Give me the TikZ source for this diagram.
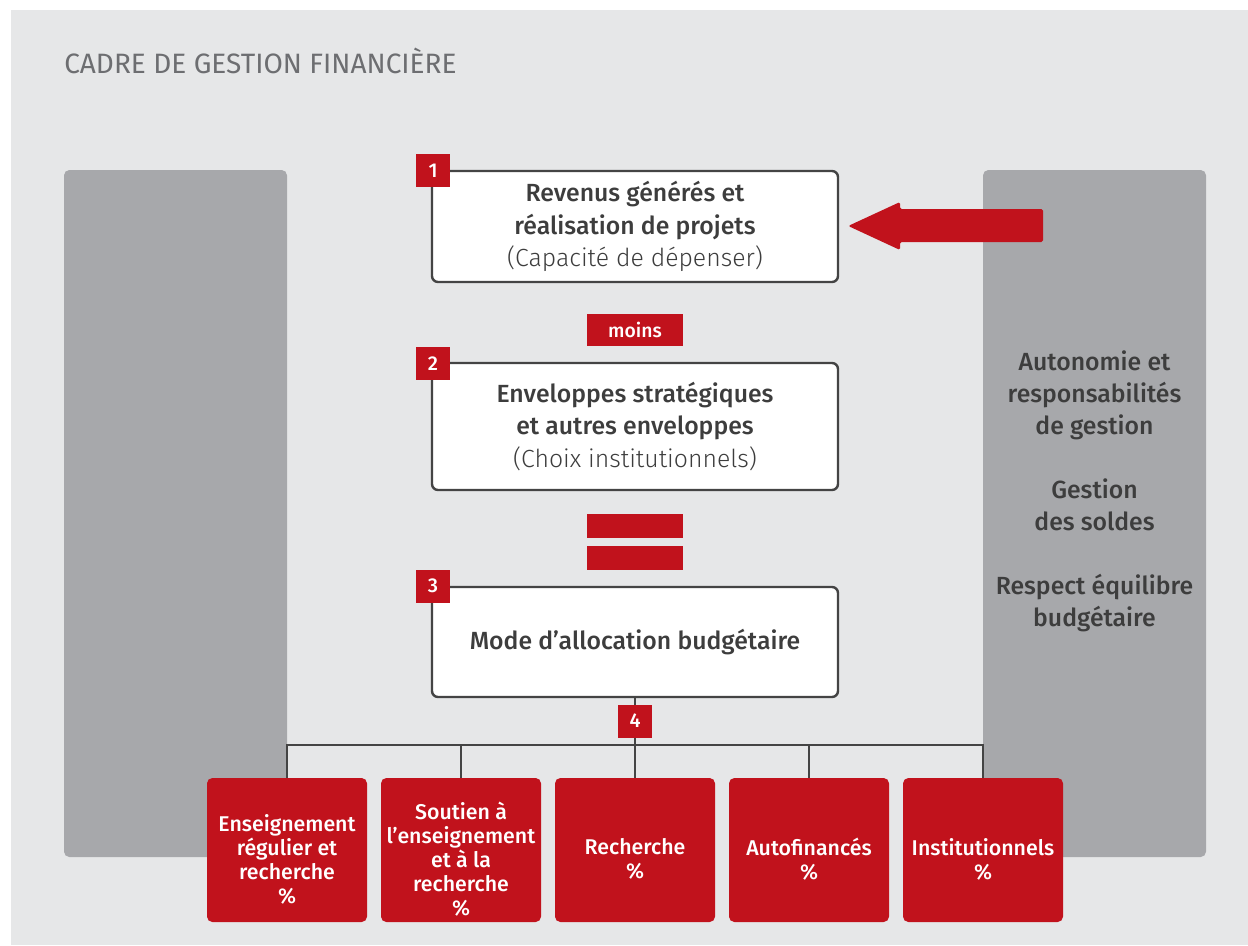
\documentclass[tikz,border=0pt]{standalone}
\usepackage{fontspec}
\setmainfont{Fira Sans}
\newfontfamily\fmedium{Fira Sans Medium}
\newfontfamily\flightf{Fira Sans Light}
\newcommand\fmed{\fmedium}
\newcommand\flight{\flightf}
\definecolor{panelbg}{HTML}{E6E7E8}
\definecolor{colgray}{HTML}{A7A8AB}
\definecolor{uqred}{HTML}{C1121C}
\definecolor{darktxt}{HTML}{3D3D3D}
\definecolor{titletxt}{HTML}{6D6E71}
\definecolor{border}{HTML}{444444}
\tikzset{
  column/.style={fill=colgray, rounded corners=4pt, minimum width=167.25pt, minimum height=515.25pt, inner sep=0pt},
  mainbox/.style={draw=border, line width=1.8pt, fill=white, rounded corners=4.5pt, minimum width=304.5pt, align=center, inner sep=0pt, text=darktxt, font=\fontsize{18.6}{24.4}\selectfont},
  numlabel/.style={fill=uqred, text=white, minimum width=25.5pt, minimum height=24.75pt, inner sep=0pt, font=\fmed\fontsize{15}{18}\selectfont},
  redbar/.style={fill=uqred, minimum width=72pt, inner sep=0pt},
  catbox/.style={fill=uqred, rounded corners=4pt, minimum width=120pt, minimum height=108pt, inner sep=0pt},
  cattext/.style={text=white, align=center, inner sep=0pt, font=\fmed\fontsize{16}{18}\selectfont},
  conn/.style={draw=border, line width=1.5pt},
}
\begin{document}
\begin{tikzpicture}[x=0.75pt,y=-0.75pt]
\useasboundingbox (0,0) rectangle (1248,945);
\fill[panelbg] (11,10) rectangle (1248,945);
\node[anchor=base west, inner sep=0pt, text=titletxt, font=\fontsize{21}{24}\selectfont] (title) at (64,74) {CADRE DE GESTION FINANCIÈRE};
% columns
\node[column] (lc) at (175.5,513.5) {};
\node[column] (rc) at (1094.5,513.5) {};
\node[text=darktxt, align=center, inner sep=0pt, font=\fmed\fontsize{18.6}{24}\selectfont] (rctext) at (1094.5,491)
  {Autonomie et\\responsabilités\\de gestion\\[24pt]Gestion\\des soldes\\[24pt]Respect équilibre\\budgétaire};
% main boxes
\node[mainbox, minimum height=83.25pt] (b1) at (635,226.5) {{\fmed Revenus générés et}\\{\fmed réalisation de projets}\\{\flight(Capacité de dépenser)}};
\node[mainbox, minimum height=95.25pt] (b2) at (635,426.5) {{\fmed Enveloppes stratégiques}\\{\fmed et autres enveloppes}\\{\flight(Choix institutionnels)}};
\node[mainbox, minimum height=82.5pt] (b3) at (635,642) {{\fmed Mode d’allocation budgétaire}};
\node[numlabel] (n1) at (433,170.5) {1};
\node[numlabel] (n2) at (433,363.5) {2};
\node[numlabel] (n3) at (433,586) {3};
% moins and equals
\node[redbar, minimum height=24pt, text=white, font=\fmed\fontsize{14.5}{16}\selectfont] (moins) at (635,330) {moins};
\node[redbar, minimum height=18pt] (eq1) at (635,526) {};
\node[redbar, minimum height=18pt] (eq2) at (635,558) {};
% big arrow
\fill[uqred, rounded corners=1.2pt] ([xshift=6.75pt,yshift=0.4pt]b1.east) coordinate (tip)
  -- (900,202) -- (900,209) -- (1043,209) -- (1043,242) -- (900,242) -- (900,250) -- cycle;
% categories
\node[catbox] (c1) at (287,850) {};
\node[catbox] (c2) at (461,850) {};
\node[catbox] (c3) at (635,850) {};
\node[catbox] (c4) at (809,850) {};
\node[catbox] (c5) at (983,850) {};
\node[cattext] (t1) at ([yshift=-6.75pt]c1.center) {Enseignement\\régulier et\\recherche\\\%};
\node[cattext] (t2) at ([yshift=-6.75pt]c2.center) {Soutien à\\l’enseignement\\et à la\\recherche\\\%};
\node[cattext] (t3) at ([yshift=-6.75pt]c3.center) {Recherche\\\%};
\node[cattext] (t4) at ([yshift=-6.75pt]c4.center) {Autofinancés\\\%};
\node[cattext] (t5) at ([yshift=-6.75pt]c5.center) {Institutionnels\\\%};
% connectors
\coordinate (bus) at (635,745);
\draw[conn] (b3.south) -- (c3.north);
\draw[conn] (c1.north) -- (c1.north |- bus) -- (c5.north |- bus) -- (c5.north);
\draw[conn] (c2.north) -- (c2.north |- bus);
\draw[conn] (c4.north) -- (c4.north |- bus);
\node[numlabel] (n4) at (635,721) {4};
\end{tikzpicture}
\end{document}
